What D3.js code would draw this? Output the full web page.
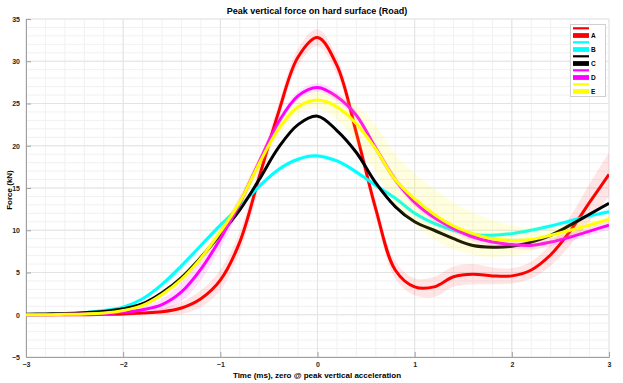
<!DOCTYPE html>
<html><head><meta charset="utf-8">
<script src="https://cdn.jsdelivr.net/npm/d3@7"></script>
<style>body{margin:0;background:#fff;}svg{display:block;font-family:"Liberation Sans",Arial,sans-serif;}</style>
</head><body>
<svg id="c" width="623" height="383"></svg>
<script>
const title = "Peak vertical force on hard surface (Road)";
const xLabel = "Time (ms), zero @ peak vertical acceleration";
const yLabel = "Force (kN)";
const seriesNames = ["A","B","C","D","E"];
const seriesColors = ["#ff0000","#00ffff","#000000","#ff00ff","#ffff00"];
const xTicks = [-3,-2,-1,0,1,2,3];
const yTicks = [-5,0,5,10,15,20,25,30,35];
const time = [-3,-2.8,-2.6,-2.4,-2.2,-2,-1.8,-1.6,-1.4,-1.2,-1,-0.8,-0.6,-0.4,-0.2,0,0.2,0.4,0.6,0.8,1,1.2,1.4,1.6,1.8,2,2.2,2.4,2.6,2.8,3];
const seriesA = [0,0,0,0,0.05,0.1,0.2,0.35,0.8,1.9,4.1,8.6,16.3,24.0,30.5,32.8,29.5,21.5,12.5,5.3,3.3,3.3,4.5,4.8,4.6,4.6,5.3,7.1,9.9,13.3,16.6];
const seriesB = [0,0.02,0.1,0.25,0.5,0.9,1.9,3.6,5.8,8.2,10.6,12.8,15.2,17.2,18.4,18.8,18.2,16.9,15.3,13.8,12.0,10.8,10.0,9.5,9.4,9.6,10.0,10.5,11.1,11.7,12.2];
const seriesC = [0.05,0.1,0.15,0.25,0.4,0.7,1.3,2.6,4.4,6.8,9.5,12.4,16.0,19.8,22.5,23.5,21.8,19.2,15.6,12.8,11.0,10.0,9.0,8.2,8.0,8.1,8.6,9.4,10.6,11.9,13.2];
const seriesD = [0,0,0.05,0.1,0.15,0.3,0.6,1.2,2.7,5.4,9.0,13.2,18.1,22.8,25.9,26.9,25.8,23.6,19.7,16.0,13.3,11.5,10.2,9.2,8.6,8.3,8.2,8.6,9.2,9.9,10.6];
const seriesE = [0,0,0.05,0.1,0.2,0.5,1.1,2.4,4.2,6.7,9.8,13.3,17.9,22.0,24.6,25.4,24.6,22.6,19.6,16.0,13.7,11.9,10.5,9.6,9.0,8.8,8.9,9.4,10.0,10.6,11.3];
// half-widths of the shaded bands around each series
const bandA = [0,0,0,0,0.05,0.1,0.2,0.4,0.7,1.0,1.2,1.2,1.2,1.0,1.0,1.0,1.0,1.0,1.0,1.0,1.0,1.2,1.2,1.2,1.0,0.9,1.0,1.3,1.7,2.2,2.6];
const bandB = [0,0,0,0.05,0.1,0.1,0.2,0.3,0.3,0.3,0.3,0.3,0.3,0.3,0.3,0.3,0.3,0.3,0.3,0.3,0.3,0.3,0.3,0.3,0.3,0.3,0.3,0.3,0.3,0.3,0.3];
const bandC = [0,0,0,0,0.05,0.1,0.1,0.2,0.2,0.2,0.2,0.2,0.2,0.2,0.2,0.2,0.2,0.2,0.2,0.2,0.2,0.2,0.2,0.2,0.2,0.2,0.2,0.2,0.2,0.2,0.2];
const bandD = [0,0,0,0,0.05,0.1,0.3,0.7,1.1,1.3,1.1,0.8,0.6,0.5,0.5,0.5,0.5,0.5,0.5,0.5,0.5,0.5,0.5,0.5,0.5,0.5,0.5,0.5,0.5,0.5,0.5];
const bandE = [0,0,0,0,0.05,0.1,0.2,0.3,0.5,0.6,0.7,0.8,0.8,0.8,0.8,1.0,1.5,2.2,2.8,3.0,3.0,3.0,2.8,2.5,2.2,1.8,1.4,1.0,0.8,0.6,0.5];
const bandColors = ["rgba(255,0,0,0.10)","rgba(0,255,255,0.10)","rgba(0,0,0,0.06)","rgba(255,0,255,0.12)","rgba(255,255,0,0.12)"];

const values = [seriesA,seriesB,seriesC,seriesD,seriesE];
const bands = [bandA,bandB,bandC,bandD,bandE];

const svg = d3.select("#c");
const L=26,R=609,T=19,B=357;
const x = d3.scaleLinear().domain([-3,3]).range([L,R]);
const y = d3.scaleLinear().domain([-5,35]).range([B,T]);

// minor grid
const g = svg.append("g");
g.selectAll(".mx").data(d3.range(-3,3.0001,0.2)).join("line")
  .attr("x1",d=>x(d)).attr("x2",d=>x(d)).attr("y1",T).attr("y2",B)
  .attr("stroke","#f1f1f1").attr("stroke-width",1);
g.selectAll(".my").data(d3.range(-5,35.0001,1)).join("line")
  .attr("y1",d=>y(d)).attr("y2",d=>y(d)).attr("x1",L).attr("x2",R)
  .attr("stroke","#f1f1f1").attr("stroke-width",1);
// major grid
g.selectAll(".gx").data(xTicks).join("line")
  .attr("x1",d=>x(d)).attr("x2",d=>x(d)).attr("y1",T).attr("y2",B)
  .attr("stroke","#e3e3e3").attr("stroke-width",1);
g.selectAll(".gy").data(yTicks).join("line")
  .attr("y1",d=>y(d)).attr("y2",d=>y(d)).attr("x1",L).attr("x2",R)
  .attr("stroke","#e3e3e3").attr("stroke-width",1);

// axes
const xAxis = d3.axisBottom(x).tickValues(xTicks).tickSize(-5).tickPadding(6).tickFormat(d3.format("d"));
const yAxis = d3.axisLeft(y).tickValues(yTicks).tickSize(-5).tickPadding(6).tickFormat(d3.format("d"));
const gx = svg.append("g").attr("transform",`translate(0,${B})`).call(xAxis);
const gy = svg.append("g").attr("transform",`translate(${L},0)`).call(yAxis);
[gx,gy].forEach(a=>{
  a.select(".domain").attr("stroke","#a0a0a0");
  a.selectAll(".tick line").attr("stroke","#a0a0a0");
  a.selectAll("text").attr("font-size",7).attr("font-weight","bold").attr("fill","#262626")
   .attr("font-family","'Liberation Sans',Arial,sans-serif");
});
gx.selectAll("text").attr("dy","0.5em");

const clip = svg.append("clipPath").attr("id","pc").append("rect").attr("x",L).attr("y",T).attr("width",R-L).attr("height",B-T);
const plot = svg.append("g").attr("clip-path","url(#pc)");

const area = d3.area().curve(d3.curveCatmullRom).x((d,i)=>x(time[i]));
const line = d3.line().curve(d3.curveCatmullRom).x((d,i)=>x(time[i])).y(d=>y(d));

values.forEach((vals,k)=>{
  const bw = bands[k];
  plot.append("path").datum(vals)
    .attr("d", area.y0((d,i)=>y(d-bw[i])).y1((d,i)=>y(d+bw[i])))
    .attr("fill",bandColors[k]).attr("stroke","none");
  plot.append("path").datum(vals).attr("d",line)
    .attr("fill","none").attr("stroke",seriesColors[k]).attr("stroke-width",3)
    .attr("stroke-linejoin","round");
});

// title and labels
svg.append("text").attr("x",317).attr("y",14).attr("text-anchor","middle")
  .attr("font-size",9).attr("font-weight","bold").attr("fill","#000").text(title);
svg.append("text").attr("x",317).attr("y",378).attr("text-anchor","middle")
  .attr("font-size",8).attr("font-weight","bold").attr("fill","#000").text(xLabel);
svg.append("text").attr("transform","translate(12,190) rotate(-90)").attr("text-anchor","middle")
  .attr("font-size",8).attr("font-weight","bold").attr("fill","#000").text(yLabel);

// legend
const lg = svg.append("g");
lg.append("rect").attr("x",570.5).attr("y",24.5).attr("width",35).attr("height",72)
  .attr("fill","#fff").attr("stroke","#d0d0d0").attr("stroke-width",1);
seriesNames.forEach((n,k)=>{
  const y0 = 28.3 + k*14;
  lg.append("line").attr("x1",573).attr("x2",589).attr("y1",y0).attr("y2",y0)
    .attr("stroke",seriesColors[k]).attr("stroke-width",2.2);
  lg.append("line").attr("x1",573).attr("x2",589).attr("y1",y0+7.2).attr("y2",y0+7.2)
    .attr("stroke",seriesColors[k]).attr("stroke-width",4.8);
  lg.append("text").attr("x",591).attr("y",y0+9.5).attr("font-size",6.5).attr("font-weight","bold")
    .attr("fill","#000").text(n);
});
</script>
</body></html>
